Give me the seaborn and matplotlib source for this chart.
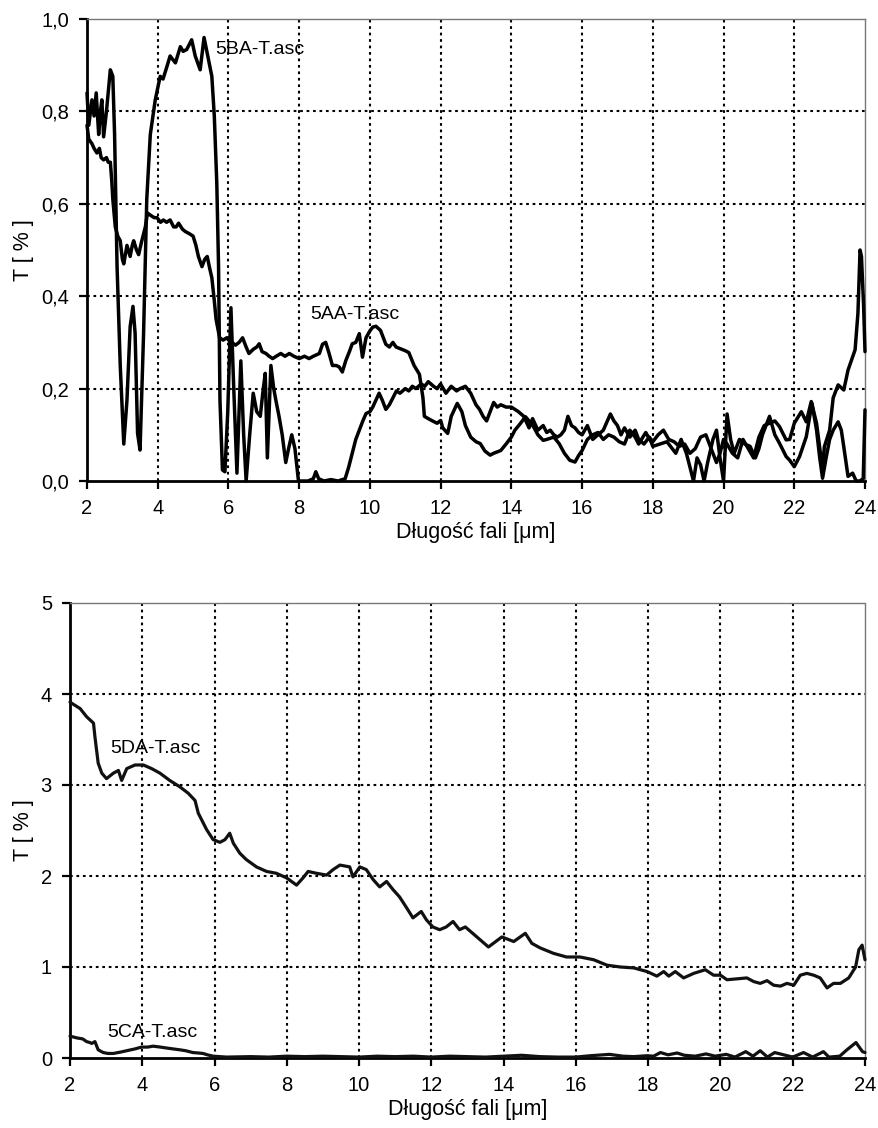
import numpy as np
import pandas as pd
import matplotlib
matplotlib.use("Agg")
import matplotlib.pyplot as plt
import seaborn as sns

# ---------------- data ----------------
x_5BA = [2.0, 2.05, 2.1, 2.14, 2.2, 2.26, 2.33, 2.38, 2.42, 2.47, 2.55, 2.6, 2.66, 2.73, 2.78,
         2.85, 2.94, 3.04, 3.13, 3.22, 3.3, 3.36, 3.43, 3.5, 3.6, 3.69, 3.79, 3.93, 4.07, 4.15,
         4.26, 4.35, 4.5, 4.64, 4.72, 4.82, 4.96, 5.06, 5.2, 5.31, 5.44, 5.53, 5.6, 5.67, 5.72,
         5.76, 5.83, 5.9, 5.98, 6.07, 6.15, 6.24, 6.35, 6.43, 6.5, 6.6, 6.7, 6.8, 6.9, 6.97,
         7.04, 7.1, 7.2, 7.28, 7.34, 7.43, 7.52, 7.62, 7.7, 7.79, 7.88, 7.98, 8.1, 8.25, 8.4,
         8.47, 8.55, 8.7, 8.9, 9.1, 9.3, 9.4, 9.5, 9.6, 9.7, 9.8, 9.89, 10.0, 10.08, 10.17,
         10.26, 10.35, 10.45, 10.55, 10.65, 10.75, 10.85, 11.0, 11.1, 11.2, 11.3, 11.45, 11.55,
         11.65, 11.8, 11.9, 12.0, 12.15, 12.3, 12.45, 12.55, 12.7, 12.85, 13.0, 13.1, 13.2,
         13.3, 13.4, 13.5, 13.6, 13.7, 13.85, 14.0, 14.1, 14.2, 14.35, 14.5, 14.6, 14.75, 14.9,
         15.0, 15.1, 15.2, 15.3, 15.4, 15.5, 15.6, 15.7, 15.8, 15.9, 16.0, 16.15, 16.3, 16.45,
         16.6, 16.8, 16.9, 17.0, 17.1, 17.2, 17.35, 17.5, 17.6, 17.75, 17.9, 18.0, 18.15, 18.3,
         18.45, 18.6, 18.75, 18.9, 19.05, 19.2, 19.35, 19.5, 19.65, 19.8, 19.9, 20.0, 20.1,
         20.25, 20.4, 20.55, 20.7, 20.85, 21.0, 21.15, 21.3, 21.45, 21.58, 21.77, 21.87, 22.0,
         22.2, 22.34, 22.48, 22.63, 22.8, 22.85, 23.0, 23.1, 23.24, 23.4, 23.52, 23.62, 23.72,
         23.8, 23.86, 23.9, 23.96, 24.0]
T_5BA = [0.84, 0.77, 0.80, 0.825, 0.79, 0.84, 0.75, 0.80, 0.825, 0.745, 0.80, 0.84, 0.89, 0.876, 0.75,
         0.464, 0.25, 0.08, 0.175, 0.334, 0.378, 0.32, 0.103, 0.067, 0.32, 0.61, 0.75, 0.825, 0.876, 0.87,
         0.897, 0.92, 0.905, 0.94, 0.93, 0.934, 0.955, 0.92, 0.89, 0.96, 0.91, 0.876, 0.79, 0.645, 0.464,
         0.175, 0.024, 0.02, 0.15, 0.375, 0.2, 0.017, 0.26, 0.1, 0.0, 0.1, 0.19, 0.15, 0.14, 0.19,
         0.233, 0.05, 0.25, 0.2, 0.175, 0.14, 0.1, 0.04, 0.07, 0.1, 0.07, 0.0, 0.0, 0.0, 0.005,
         0.02, 0.005, 0.0, 0.003, 0.0, 0.005, 0.03, 0.06, 0.09, 0.11, 0.13, 0.146, 0.15, 0.16, 0.175,
         0.19, 0.175, 0.155, 0.165, 0.18, 0.195, 0.19, 0.20, 0.195, 0.205, 0.2, 0.21, 0.205,
         0.215, 0.205, 0.2, 0.21, 0.19, 0.205, 0.195, 0.2, 0.205, 0.19, 0.165, 0.155, 0.14,
         0.13, 0.15, 0.17, 0.16, 0.165, 0.16, 0.16, 0.155, 0.15, 0.14, 0.115, 0.135, 0.11, 0.12,
         0.105, 0.11, 0.1, 0.095, 0.10, 0.11, 0.14, 0.12, 0.115, 0.105, 0.10, 0.12, 0.09, 0.10,
         0.11, 0.145, 0.13, 0.12, 0.10, 0.115, 0.095, 0.11, 0.09, 0.08, 0.095, 0.085, 0.10, 0.11,
         0.09, 0.085, 0.075, 0.08, 0.06, 0.07, 0.095, 0.10, 0.07, 0.04, 0.06, 0.09, 0.08,
         0.06, 0.05, 0.09, 0.07, 0.05, 0.095, 0.12, 0.125, 0.13, 0.118, 0.089, 0.09, 0.125,
         0.15, 0.128, 0.172, 0.125, 0.024, 0.074, 0.11, 0.18, 0.208, 0.197, 0.24, 0.262, 0.284,
         0.363, 0.5, 0.486, 0.38, 0.28]

x_5AA = [2.0, 2.05, 2.14, 2.2, 2.28, 2.35, 2.4, 2.47, 2.55, 2.6, 2.66, 2.7, 2.73, 2.8, 2.87, 2.94,
         3.0, 3.04, 3.13, 3.22, 3.28, 3.32, 3.4, 3.46, 3.55, 3.65, 3.71, 3.8, 3.9, 3.98, 4.08, 4.16,
         4.25, 4.35, 4.45, 4.52, 4.59, 4.7, 4.78, 4.9, 5.0, 5.08, 5.15, 5.25, 5.33, 5.4, 5.47, 5.53,
         5.6, 5.65, 5.7, 5.75, 5.85, 5.95, 6.02, 6.1, 6.2, 6.3, 6.4, 6.5, 6.58, 6.7, 6.8, 6.87,
         6.95, 7.06, 7.15, 7.25, 7.35, 7.48, 7.6, 7.72, 7.85, 8.0, 8.15, 8.28, 8.4, 8.57, 8.66,
         8.75, 8.85, 8.94, 9.05, 9.13, 9.22, 9.32, 9.42, 9.5, 9.6, 9.7, 9.79, 9.89, 10.0, 10.08,
         10.17, 10.3, 10.45, 10.55, 10.65, 10.74, 10.9, 11.0, 11.1, 11.25, 11.4, 11.5, 11.54,
         11.65, 11.77, 11.9, 12.0, 12.06, 12.2, 12.3, 12.47, 12.6, 12.7, 12.85, 13.0, 13.12,
         13.25, 13.4, 13.5, 13.7, 13.85, 14.0, 14.1, 14.25, 14.4, 14.5, 14.63, 14.75, 14.9, 15.0,
         15.2, 15.35, 15.5, 15.65, 15.8, 15.9, 16.0, 16.15, 16.3, 16.45, 16.6, 16.75, 16.9, 17.05,
         17.2, 17.35, 17.5, 17.6, 17.8, 17.95, 18.0, 18.2, 18.4, 18.55, 18.65, 18.8, 18.95, 19.05,
         19.15, 19.25, 19.35, 19.45, 19.55, 19.7, 19.8, 19.9, 20.0, 20.1, 20.2, 20.3, 20.45, 20.6,
         20.75, 20.9, 21.0, 21.1, 21.3, 21.45, 21.58, 21.77, 21.87, 22.0, 22.15, 22.34, 22.5,
         22.63, 22.72, 22.8, 22.9, 23.0, 23.1, 23.24, 23.33, 23.4, 23.52, 23.65, 23.75, 23.85,
         23.95, 24.0]
T_5AA = [0.77, 0.74, 0.73, 0.72, 0.71, 0.72, 0.70, 0.695, 0.70, 0.69, 0.69, 0.65, 0.61, 0.55, 0.53, 0.52,
         0.48, 0.47, 0.51, 0.486, 0.51, 0.52, 0.50, 0.49, 0.52, 0.55, 0.58, 0.575, 0.57, 0.57, 0.56, 0.565,
         0.56, 0.565, 0.55, 0.55, 0.558, 0.545, 0.54, 0.535, 0.53, 0.51, 0.486, 0.464, 0.48, 0.486, 0.46, 0.44,
         0.39, 0.35, 0.33, 0.31, 0.305, 0.31, 0.304, 0.30, 0.294, 0.30, 0.31, 0.29, 0.276, 0.285, 0.29, 0.297,
         0.28, 0.276, 0.27, 0.265, 0.27, 0.276, 0.27, 0.276, 0.27, 0.265, 0.27, 0.265, 0.27, 0.276, 0.296,
         0.30, 0.275, 0.25, 0.25, 0.247, 0.236, 0.261, 0.28, 0.297, 0.30, 0.319, 0.268, 0.31, 0.325, 0.333,
         0.335, 0.326, 0.296, 0.29, 0.30, 0.29, 0.285, 0.282, 0.278, 0.25, 0.231, 0.18, 0.14,
         0.135, 0.13, 0.125, 0.131, 0.115, 0.103, 0.14, 0.168, 0.15, 0.12, 0.095, 0.085, 0.081,
         0.065, 0.056, 0.06, 0.066, 0.08, 0.095, 0.11, 0.124, 0.139, 0.13, 0.117, 0.10, 0.088, 0.09,
         0.095, 0.081, 0.06, 0.045, 0.041, 0.055, 0.066, 0.09, 0.10, 0.105, 0.09, 0.10, 0.095, 0.085,
         0.08, 0.11, 0.095, 0.08, 0.105, 0.085, 0.075, 0.08, 0.085, 0.07, 0.06, 0.09, 0.06, 0.03,
         0.0, 0.05, 0.035, 0.0, 0.04, 0.09, 0.11, 0.05, 0.0, 0.145, 0.09, 0.06, 0.09, 0.08,
         0.075, 0.05, 0.07, 0.10, 0.14, 0.10, 0.082, 0.053, 0.045, 0.031, 0.053, 0.096, 0.168,
         0.11, 0.05, 0.006, 0.05, 0.09, 0.11, 0.128, 0.11, 0.074, 0.01, 0.017, 0.0, 0.0,
         0.005, 0.154]

x_5DA = [2.0, 2.28, 2.46, 2.65, 2.69, 2.78, 2.88, 3.01, 3.2, 3.34, 3.43, 3.57, 3.8, 4.03, 4.26,
         4.49, 4.76, 5.04, 5.27, 5.46, 5.55, 5.64, 5.78, 5.96, 6.15, 6.29, 6.42, 6.52, 6.7, 6.88,
         7.16, 7.44, 7.71, 7.99, 8.27, 8.45, 8.59, 8.82, 9.1, 9.28, 9.47, 9.74, 9.83, 10.02, 10.2,
         10.39, 10.57, 10.76, 10.94, 11.12, 11.3, 11.49, 11.72, 11.86, 12.04, 12.23, 12.41, 12.6,
         12.78, 12.94, 13.26, 13.58, 13.95, 14.28, 14.6, 14.78, 15.01, 15.38, 15.74, 16.11, 16.49,
         16.86, 17.23, 17.6, 17.97, 18.24, 18.43, 18.57, 18.75, 18.98, 19.26, 19.58, 19.81, 20.0,
         20.18, 20.46, 20.73, 20.92, 21.1, 21.29, 21.47, 21.66, 21.84, 22.03, 22.21, 22.39, 22.58,
         22.76, 22.95, 23.13, 23.32, 23.55, 23.74, 23.83, 23.92, 24.0]
T_5DA = [3.91, 3.84, 3.75, 3.68, 3.53, 3.24, 3.13, 3.07, 3.13, 3.16, 3.05, 3.18, 3.22, 3.22, 3.18,
         3.13, 3.05, 2.98, 2.91, 2.83, 2.69, 2.62, 2.51, 2.40, 2.37, 2.40, 2.47, 2.36, 2.25, 2.18,
         2.10, 2.05, 2.03, 1.98, 1.90, 1.98, 2.05, 2.03, 2.01, 2.07, 2.12, 2.10, 1.99, 2.10, 2.07,
         1.96, 1.88, 1.94, 1.85, 1.77, 1.66, 1.54, 1.61, 1.52, 1.44, 1.41, 1.44, 1.50,
         1.41, 1.44, 1.33, 1.22, 1.33, 1.28, 1.37, 1.26, 1.21, 1.15, 1.11, 1.11, 1.08,
         1.02, 1.00, 0.99, 0.95, 0.90, 0.95, 0.90, 0.95, 0.88, 0.93, 0.97, 0.91, 0.91,
         0.86, 0.87, 0.88, 0.84, 0.82, 0.85, 0.80, 0.79, 0.82, 0.80, 0.91, 0.93, 0.91,
         0.88, 0.77, 0.82, 0.82, 0.88, 1.00, 1.19, 1.24, 1.08]

x_5CA = [2.0, 2.2, 2.35, 2.46, 2.55, 2.6, 2.69, 2.78, 2.92, 3.05, 3.2, 3.4, 3.57, 3.8, 3.98, 4.15,
         4.3, 4.5, 4.67, 4.85, 5.04, 5.2, 5.4, 5.55, 5.68, 5.8, 5.96, 6.15, 6.33, 7.0, 7.5, 8.0,
         8.5, 9.0, 9.5, 10.0, 10.5, 11.0, 11.5, 12.0, 12.5, 13.0, 13.5, 14.0, 14.5, 15.0, 15.5,
         16.0, 16.4, 16.93, 17.3, 17.6, 17.97, 18.15, 18.34, 18.55, 18.8, 19.0, 19.3, 19.6, 19.85,
         20.16, 20.4, 20.7, 20.9, 21.1, 21.3, 21.5, 21.8, 22.0, 22.3, 22.55, 22.85, 23.0, 23.3,
         23.5, 23.75, 23.93, 24.0]
T_5CA = [0.24, 0.22, 0.21, 0.18, 0.17, 0.16, 0.18, 0.09, 0.06, 0.05, 0.05, 0.065, 0.08, 0.10, 0.12, 0.12,
         0.13, 0.12, 0.11, 0.10, 0.09, 0.08, 0.06, 0.055, 0.05, 0.035, 0.02, 0.015, 0.01, 0.015, 0.01, 0.02,
         0.015, 0.02, 0.015, 0.01, 0.02, 0.015, 0.02, 0.01, 0.02, 0.015, 0.01, 0.02, 0.03, 0.015, 0.01,
         0.01, 0.025, 0.04, 0.02, 0.015, 0.025, 0.02, 0.06, 0.035, 0.055, 0.03, 0.02, 0.045, 0.02,
         0.04, 0.01, 0.07, 0.02, 0.08, 0.01, 0.06, 0.03, 0.01, 0.06, 0.01, 0.07, 0.01, 0.02,
         0.09, 0.17, 0.07, 0.06]

x_ticks = [2, 4, 6, 8, 10, 12, 14, 16, 18, 20, 22, 24]
top_yticks = [0.0, 0.2, 0.4, 0.6, 0.8, 1.0]
top_ylabels = ["0,0", "0,2", "0,4", "0,6", "0,8", "1,0"]
bot_yticks = [0, 1, 2, 3, 4, 5]
bot_ylabels = ["0", "1", "2", "3", "4", "5"]
xlabel = "Długość fali [\u03bcm]"
ylabel = "T [ % ]"

# ---------------- plotting ----------------
sns.set_theme(style="white")
plt.rcParams["font.family"] = ["Liberation Sans", "DejaVu Sans"]
plt.rcParams["text.color"] = "black"
plt.rcParams["axes.labelcolor"] = "black"
plt.rcParams["xtick.color"] = "black"
plt.rcParams["ytick.color"] = "black"

fig = plt.figure(figsize=(8.79, 11.28), dpi=100)
ax1 = fig.add_axes([87 / 879, 1 - 481 / 1128, (865 - 87) / 879, (481 - 19) / 1128])
ax2 = fig.add_axes([70 / 879, 1 - 1058 / 1128, (865 - 70) / 879, (1058 - 603) / 1128])


def style_axes(ax, yticks, ylabels, ylim):
    ax.set_xlim(2, 24)
    ax.set_ylim(*ylim)
    ax.set_xticks(x_ticks)
    ax.set_xticklabels([str(t) for t in x_ticks])
    ax.set_yticks(yticks)
    ax.set_yticklabels(ylabels)
    # interior dotted grid
    for t in x_ticks:
        if 2 < t < 24:
            ax.axvline(t, color="black", lw=1.5, ls=(0, (1.3, 1.8)), zorder=1)
    for t in yticks:
        if ylim[0] < t < ylim[1]:
            ax.axhline(t, color="black", lw=1.5, ls=(0, (1.3, 1.8)), zorder=1)
    for s in ["left", "bottom"]:
        ax.spines[s].set_color("black")
        ax.spines[s].set_linewidth(2.0)
    for s in ["top", "right"]:
        ax.spines[s].set_color("#777777")
        ax.spines[s].set_linewidth(1.0)
        ax.spines[s].set_linestyle((0, (1.5, 1.0)))
    ax.tick_params(axis="both", which="major", direction="out", length=6, width=1.6,
                   color="black", labelcolor="black", labelsize=14.5, pad=7,
                   bottom=True, left=True)
    ax.set_xlabel(xlabel, fontsize=15.5, labelpad=3, color="black")
    ax.set_ylabel(ylabel, fontsize=15.5, labelpad=5, color="black")


df_top = pd.concat([
    pd.DataFrame({"x": x_5BA, "T": T_5BA, "serie": "5BA-T.asc"}),
    pd.DataFrame({"x": x_5AA, "T": T_5AA, "serie": "5AA-T.asc"}),
])
df_bot = pd.concat([
    pd.DataFrame({"x": x_5DA, "T": T_5DA, "serie": "5DA-T.asc"}),
    pd.DataFrame({"x": x_5CA, "T": T_5CA, "serie": "5CA-T.asc"}),
])

sns.lineplot(data=df_top, x="x", y="T", hue="serie", palette=["black", "black"],
             estimator=None, sort=False, linewidth=2.5, legend=False, ax=ax1, zorder=3)
sns.lineplot(data=df_bot, x="x", y="T", hue="serie", palette=["#111111", "#111111"],
             estimator=None, sort=False, linewidth=2.3, legend=False, ax=ax2, zorder=3)

style_axes(ax1, top_yticks, top_ylabels, (0, 1.0))
style_axes(ax2, bot_yticks, bot_ylabels, (0, 5))

ax1.text(5.64, 0.933, "5BA-T.asc", fontsize=14, va="center", ha="left", zorder=4, color="black")
ax1.text(8.31, 0.36, "5AA-T.asc", fontsize=14, va="center", ha="left", zorder=4, color="black")
ax2.text(3.1, 3.40, "5DA-T.asc", fontsize=14, va="center", ha="left", zorder=4, color="black")
ax2.text(3.04, 0.28, "5CA-T.asc", fontsize=14, va="center", ha="left", zorder=4, color="black")

for ax in (ax1, ax2):
    for line in ax.get_lines():
        if line.get_linewidth() > 2.0:
            line.set_clip_on(False)

fig.savefig("out.png", dpi=100, facecolor="white")
